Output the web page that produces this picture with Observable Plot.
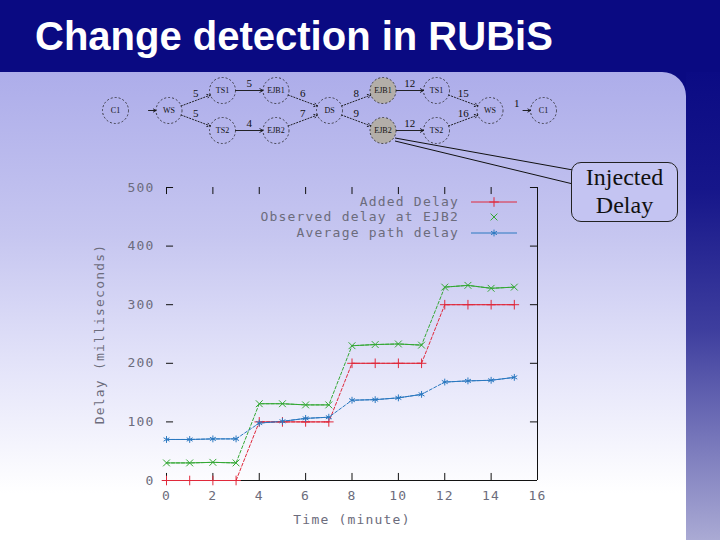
<!DOCTYPE html>
<html><head><meta charset="utf-8">
<script src="https://cdn.jsdelivr.net/npm/d3@7"></script>
<script src="https://cdn.jsdelivr.net/npm/@observablehq/plot@0.6"></script>
<style>
html,body{margin:0;padding:0;}
body{width:720px;height:540px;position:relative;overflow:hidden;background:#0a0a82;font-family:"Liberation Sans",Arial,sans-serif;}
#strip{position:absolute;left:686px;top:72px;width:34px;height:468px;background:linear-gradient(#0b0b84 0%,#16168a 25%,#3e3e9e 55%,#aaaad4 100%);}
#panel{position:absolute;left:0;top:72px;width:686px;height:468px;border-top-right-radius:24px;background:linear-gradient(#adadea 0%,#c6c6f0 35%,#e6e6fa 65%,#ffffff 90%);}
#title{position:absolute;left:35px;top:16px;color:#fff;font-weight:bold;font-size:40px;line-height:40px;white-space:nowrap;}
.abs{position:absolute;left:0;top:0;}
#legend{position:absolute;left:0;top:0;width:720px;height:540px;pointer-events:none;font-family:"DejaVu Sans Mono",monospace;font-size:13px;letter-spacing:1.2px;color:#6c6c7c;}
.lrow{position:absolute;right:261px;white-space:nowrap;line-height:14px;}
#callout{position:absolute;left:571px;top:162px;width:105px;height:58px;border:1px solid #222;border-radius:10px;background:#c4c4f2;font-family:"Liberation Serif","Times New Roman",serif;font-size:24px;line-height:28px;text-align:center;color:#111;}
</style></head>
<body>
<div id="panel"></div>
<div id="strip"></div>
<div id="title">Change detection in RUBiS</div>
<div id="diagram" class="abs" style="top:72px"></div>
<div id="chart" class="abs"></div>
<div id="legend"></div>
<svg class="abs" width="720" height="540" style="pointer-events:none">
  <line x1="395" y1="138" x2="573" y2="170" stroke="#111" stroke-width="1"/>
  <line x1="395" y1="141" x2="573" y2="184" stroke="#111" stroke-width="1"/>
</svg>
<div id="callout">Injected<br>Delay</div>
<script>
// ---- chart data ----
const minutes      = [0, 1, 2, 3, 4, 5, 6, 7, 8, 9, 10, 11, 12, 13, 14, 15];
const addedDelay   = [0, 0, 0, 0, 100, 100, 100, 100, 200, 200, 200, 200, 300, 300, 300, 300];
const observedEJB2 = [30, 30, 31, 30, 131, 131, 129, 129, 230, 232, 233, 231, 330, 333, 328, 330];
const avgPathDelay = [70, 70, 71, 71, 98, 101, 106, 108, 137, 138, 141, 147, 168, 170, 171, 176];
const seriesNames  = ["Added Delay", "Observed delay at EJB2", "Average path delay"];
const seriesColors = ["#e0283a", "#34a834", "#2a78c0"];
const xTicks = [0, 2, 4, 6, 8, 10, 12, 14, 16];
const yTicks = [0, 100, 200, 300, 400, 500];

// ---- diagram data ----
const nodeLabel    = ["C1", "WS", "TS1", "EJB1", "TS2", "EJB2", "DS", "EJB1", "EJB2", "TS1", "TS2", "WS", "C1"];
const nodeCol      = [0, 1, 2, 3, 2, 3, 4, 5, 5, 6, 6, 7, 8];
const nodeRow      = [0, 0, -1, -1, 1, 1, 0, -1, 1, -1, 1, 0, 0];
const nodeInjected = [0, 0, 0, 0, 0, 0, 0, 1, 1, 0, 0, 0, 0];
const edgeFrom     = [0, 1, 2, 3, 1, 4, 5, 6, 6, 7, 8, 9, 10, 11];
const edgeTo       = [1, 2, 3, 6, 4, 5, 6, 7, 8, 9, 10, 11, 11, 12];
const edgeLabel    = ["", "5", "5", "6", "5", "4", "7", "8", "9", "12", "12", "15", "16", "1"];

const series = [addedDelay, observedEJB2, avgPathDelay];
const rows = [];
series.forEach((vals, s) => vals.forEach((v, i) => rows.push({
  t: minutes[i], v, name: seriesNames[s], level: addedDelay[i]
})));
const color = {domain: seriesNames, range: seriesColors};
const sym = {domain: seriesNames, range: ["plus", "times", "asterisk"]};

const xr = xTicks[xTicks.length - 1] - xTicks[0];
const yr = yTicks[yTicks.length - 1] - yTicks[0];
const x0 = xTicks[0], x1 = xTicks[xTicks.length - 1], y0 = yTicks[0], y1 = yTicks[yTicks.length - 1];

const chart = Plot.plot({
  width: 720, height: 540,
  marginLeft: 166, marginRight: 183, marginTop: 187, marginBottom: 60,
  style: {background: "transparent", fontFamily: "'DejaVu Sans Mono', monospace", fontSize: "13px", color: "#6c6c7c", letterSpacing: "1.2px", overflow: "visible"},
  x: {domain: [x0, x1]},
  y: {domain: [y0, y1]},
  color, symbol: sym,
  marks: [
    Plot.axisX(xTicks, {tickSize: 0, tickPadding: 10, label: "Time (minute)", labelAnchor: "center", labelOffset: 43, labelArrow: "none"}),
    Plot.axisY(yTicks, {tickSize: 0, tickPadding: 12, label: "Delay (milliseconds)", labelAnchor: "center", labelOffset: 72, labelArrow: "none"}),
    Plot.ruleY([y0], {stroke: "#111"}),
    Plot.ruleX([x1], {stroke: "#111"}),
    Plot.ruleY(yTicks, {x1: x0, x2: x0 + xr * 0.019, stroke: "#111"}),
    Plot.ruleY(yTicks, {x1: x1, x2: x1 - xr * 0.019, stroke: "#111"}),
    Plot.ruleX(xTicks, {y1: y0, y2: y0 + yr * 0.024, stroke: "#111"}),
    Plot.ruleX(xTicks, {y1: y1, y2: y1 - yr * 0.024, stroke: "#111"}),
    Plot.line(rows, {x: "t", y: "v", z: "name", stroke: "name", strokeWidth: 1, strokeDasharray: "3,2"}),
    Plot.line(rows, {x: "t", y: "v", z: d => d.name + d.level, stroke: "name", strokeWidth: 1}),
    Plot.dot(rows, {x: "t", y: "v", symbol: "name", stroke: "name", r: 3.2, strokeWidth: 1})
  ]
});
document.getElementById("chart").appendChild(chart);

// legend
const leg = document.getElementById("legend");
const legY = [195, 210, 226];
seriesNames.forEach((n, i) => {
  const d = document.createElement("div");
  d.className = "lrow"; d.style.top = legY[i] + "px"; d.textContent = n;
  leg.appendChild(d);
});
const ls = d3.select(leg).append("svg").attr("width", 720).attr("height", 540).style("position", "absolute").style("left", 0).style("top", 0);
const symGen = [d3.symbolPlus, d3.symbolTimes, d3.symbolAsterisk];
seriesNames.forEach((n, i) => {
  const cy = legY[i] + 7;
  if (i !== 1) ls.append("line").attr("x1", 471).attr("x2", 517).attr("y1", cy).attr("y2", cy).attr("stroke", seriesColors[i]);
  ls.append("path").attr("d", d3.symbol(symGen[i], 32)()).attr("transform", `translate(494,${cy})`).attr("fill", "none").attr("stroke", seriesColors[i]);
});

// diagram
const nodes = nodeLabel.map((l, i) => ({label: l, col: nodeCol[i], row: nodeRow[i], inj: nodeInjected[i]}));
const edges = edgeFrom.map((f, i) => ({
  x1: nodeCol[f], y1: nodeRow[f], x2: nodeCol[edgeTo[i]], y2: nodeRow[edgeTo[i]],
  label: edgeLabel[i], stub: i === 0 || i === edgeFrom.length - 1,
  flat: nodeRow[f] === nodeRow[edgeTo[i]]
}));
const diagram = Plot.plot({
  width: 720, height: 80,
  marginLeft: 115, marginRight: 177, marginTop: 18, marginBottom: 22,
  style: {background: "transparent", overflow: "visible", fontFamily: "'Liberation Serif', serif"},
  x: {domain: [0, 8], axis: null},
  y: {domain: [-1, 1], reverse: true, axis: null},
  marks: [
    Plot.arrow(edges.filter(e => !e.stub && e.flat), {x1: "x1", y1: "y1", x2: "x2", y2: "y2", insetStart: 13, insetEnd: 13, headLength: 6, stroke: "#111", strokeWidth: 0.9}),
    Plot.arrow(edges.filter(e => !e.stub && !e.flat), {x1: "x1", y1: "y1", x2: "x2", y2: "y2", insetStart: 13, insetEnd: 13, headLength: 6, stroke: "#111", strokeWidth: 0.9, strokeDasharray: "1.2,1.8"}),
    Plot.arrow(edges.filter(e => e.stub), {x1: "x1", y1: "y1", x2: "x2", y2: "y2", insetStart: 33, insetEnd: 13, headLength: 5, stroke: "#111", strokeWidth: 0.9}),
    Plot.dot(nodes, {x: "col", y: "row", r: 13, stroke: "#222", strokeWidth: 0.8, strokeDasharray: "2,2", fill: d => d.inj ? "#b3aea8" : "none"}),
    Plot.text(nodes, {x: "col", y: "row", text: "label", fontSize: 8, fill: "#111"}),
    Plot.text(edges, {x: d => (d.x1 + d.x2) / 2, y: d => (d.y1 + d.y2) / 2, text: "label", dy: -7, fontSize: 11, fill: "#111"})
  ]
});
document.getElementById("diagram").appendChild(diagram);
</script>
</body></html>
